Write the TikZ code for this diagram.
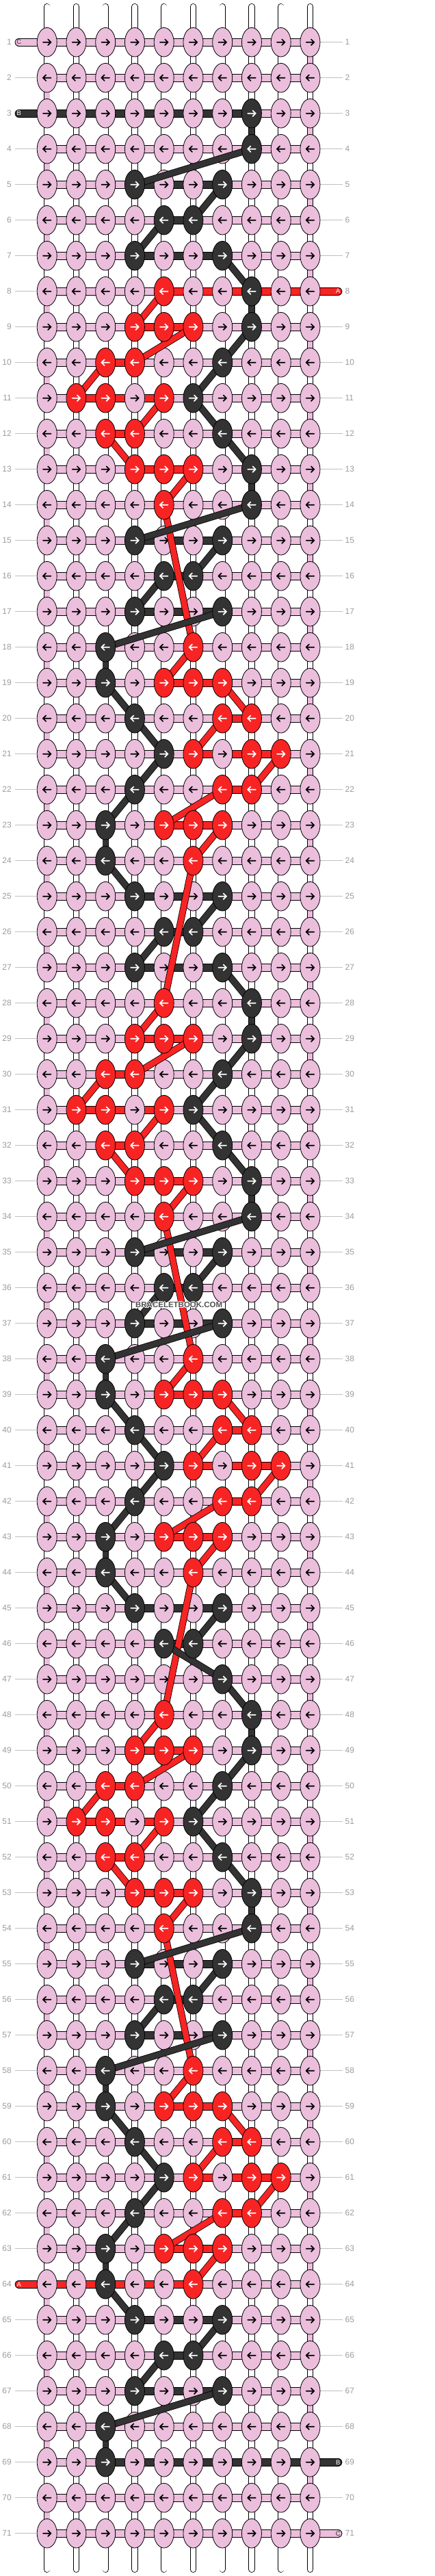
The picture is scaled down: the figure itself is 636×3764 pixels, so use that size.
\documentclass[tikz,border=0pt]{standalone}
\usepackage{fontspec}
\setmainfont{Liberation Sans}
\usetikzlibrary{shapes.geometric}
\definecolor{pk}{HTML}{EBBEDC}
\definecolor{dk}{HTML}{333333}
\definecolor{rd}{HTML}{F82424}
\definecolor{lbl}{HTML}{9C9C9C}
\definecolor{gln}{HTML}{C0C0C0}
\tikzset{
  knot/.style={ellipse, draw=black, line width=0.8pt, minimum width=29pt, minimum height=42.6pt, inner sep=0pt, outer sep=0pt},
  arr/.style={line width=1.7pt, line cap=round, line join=round},
  rowlab/.style={font=\fontsize{12}{12}\selectfont, text=lbl, inner sep=0pt},
  endlab/.style={font=\fontsize{9.5}{9.5}\selectfont, inner sep=0pt},
  stripO/.style={line width=12pt, draw=black},
  stripI/.style={line width=10.4pt},
  vertO/.style={line width=9.4pt, draw=black},
  vertI/.style={line width=7.8pt},
  diagO/.style={line width=10pt, draw=black},
  diagI/.style={line width=8.4pt},
  grayline/.style={draw=gln, line width=0.9pt},
}
\newcommand\setk[3]{\expandafter\xdef\csname kc-#1-#2\endcsname{#3}}
\newcommand\seg[4]{\draw[#1O] (#3) -- (#4); \draw[#1I,#2] (#3) -- (#4);}
\newcommand\karrow[3]{\ifodd#1\relax\def\kd{1}\else\def\kd{-1}\fi
  \draw[arr, #3, shift={(k-#1-#2)}, xscale=\kd] (-5.8,0) -- (5.8,0) (1.4,-4.3) -- (5.8,0) -- (1.4,4.3);}
\begin{document}
\begin{tikzpicture}[x=1pt,y=-1pt]
\useasboundingbox (0,0) rectangle (636,3764);
\fill[white] (0,0) rectangle (636,3764);
% knot positions
\foreach \r in {1,...,71}{\foreach \c in {1,...,10}{
  \coordinate (k-\r-\c) at ({68.7+42.75*(\c-1)},{61.7+52*(\r-1)});}}
\foreach \c in {1,...,10}{
  \coordinate (tt-\c) at ({68.7+42.75*(\c-1)},9.7);
  \coordinate (tb-\c) at ({68.7+42.75*(\c-1)},3754.3);}
% colour map of knots
\foreach \r/\c in {3/8,4/8,5/4,5/7,6/5,6/6,7/4,7/7,27/4,27/7,47/7,67/4,67/7,68/3,69/3}{\setk{\r}{\c}{dk}}
\foreach \o in {0,20,40}{\foreach \t/\c in {8/8,9/8,10/7,11/6,12/7,13/8,14/8,15/4,15/7,16/5,16/6,17/4,17/7,18/3,19/3,20/4,21/5,22/4,23/3,24/3,25/4,25/7,26/5,26/6}{
  \pgfmathtruncatemacro\r{\t+\o}\setk{\r}{\c}{dk}}}
\foreach \o in {0,20,40}{\foreach \t/\c in {8/5,9/4,9/5,9/6,10/3,10/4,11/2,11/3,11/5,12/3,12/4,13/4,13/5,13/6,14/5,18/6,19/5,19/6,19/7,20/7,20/8,21/6,21/8,21/9,22/7,22/8,23/5,23/6,23/7,24/6}{
  \pgfmathtruncatemacro\r{\t+\o}\setk{\r}{\c}{rd}}}
% row labels and guide lines
\foreach \r in {1,...,71}{
  \coordinate (gl-\r) at (21.7,{61.7+52*(\r-1)});
  \coordinate (gr-\r) at (500.5,{61.7+52*(\r-1)});
  \draw[grayline] (gl-\r) -- (k-\r-1);
  \draw[grayline] (k-\r-10) -- (gr-\r);
  \node[rowlab, anchor=east] (ll-\r) at (17,{61.7+52*(\r-1)}) {\r};
  \node[rowlab, anchor=west] (lr-\r) at (504.5,{61.7+52*(\r-1)}) {\r};
}
% base threads
\foreach \c in {1,...,10}{
  \draw[line width=9.4pt, black, line cap=round] (tt-\c) -- (tb-\c);
  \draw[line width=7.8pt, white, line cap=round] (tt-\c) -- (tb-\c);}
% vertical connectors
\foreach \r in {1,3,...,69}{\pgfmathtruncatemacro\rn{\r+1}\seg{vert}{pk}{k-\r-10}{k-\rn-10}}
\foreach \r in {2,4,...,70}{\pgfmathtruncatemacro\rn{\r+1}\seg{vert}{pk}{k-\r-1}{k-\rn-1}}
\foreach \r/\c in {3/8,68/3}{\pgfmathtruncatemacro\rn{\r+1}\seg{vert}{dk}{k-\r-\c}{k-\rn-\c}}
\foreach \o in {0,20,40}{\foreach \t/\c in {8/8,13/8,18/3,23/3}{
  \pgfmathtruncatemacro\r{\t+\o}\pgfmathtruncatemacro\rn{\r+1}\seg{vert}{dk}{k-\r-\c}{k-\rn-\c}}}
% horizontal strips
\foreach \r in {1,...,71}{\foreach \c in {1,...,9}{\pgfmathtruncatemacro\cn{\c+1}
  \seg{strip}{pk}{k-\r-\c}{k-\r-\cn}}}
\foreach \r/\c in {3/1,3/2,3/3,3/4,3/5,3/6,3/7,5/4,5/5,5/6,6/5,7/4,7/5,7/6,27/4,27/5,27/6,67/4,67/5,67/6,69/3,69/4,69/5,69/6,69/7,69/8,69/9}{
  \pgfmathtruncatemacro\cn{\c+1}\seg{strip}{dk}{k-\r-\c}{k-\r-\cn}}
\foreach \o in {0,20,40}{\foreach \t/\c in {15/4,15/5,15/6,16/5,17/4,17/5,17/6,25/4,25/5,25/6,26/5}{
  \pgfmathtruncatemacro\r{\t+\o}\pgfmathtruncatemacro\cn{\c+1}\seg{strip}{dk}{k-\r-\c}{k-\r-\cn}}}
\foreach \r/\c in {8/5,8/6,8/7,8/8,8/9,64/1,64/2,64/3,64/4,64/5}{
  \pgfmathtruncatemacro\cn{\c+1}\seg{strip}{rd}{k-\r-\c}{k-\r-\cn}}
\foreach \o in {0,20,40}{\foreach \t/\c in {9/4,9/5,10/3,11/2,11/3,11/4,12/3,13/4,13/5,19/5,19/6,20/7,21/6,21/7,21/8,22/7,23/5,23/6}{
  \pgfmathtruncatemacro\r{\t+\o}\pgfmathtruncatemacro\cn{\c+1}\seg{strip}{rd}{k-\r-\c}{k-\r-\cn}}}
% thread ends
\coordinate (eL1) at (27.7,61.7);
\coordinate (eL3) at (27.7,165.7);
\coordinate (eL64) at (27.7,3337.7);
\coordinate (eR8) at (494.3,425.7);
\coordinate (eR69) at (494.3,3597.7);
\coordinate (eR71) at (494.3,3701.7);
\foreach \e/\k/\col in {eL1/k-1-1/pk,eL3/k-3-1/dk,eL64/k-64-1/rd,eR8/k-8-10/rd,eR69/k-69-10/dk,eR71/k-71-10/pk}{
  \draw[stripO, line cap=round] (\e) -- (\k);
  \draw[stripI, \col, line cap=round] (\e) -- (\k);}
\node[endlab, text=dk] (tC1) at (eL1) {C};
\node[endlab, text=white] (tB1) at (eL3) {B};
\node[endlab, text=white] (tA1) at (eL64) {A};
\node[endlab, text=white] (tA2) at (eR8) {A};
\node[endlab, text=white] (tB2) at (eR69) {B};
\node[endlab, text=dk] (tC2) at (eR71) {C};
% pink knots
\foreach \r in {1,...,71}{\foreach \c in {1,...,10}{
  \ifcsname kc-\r-\c\endcsname\else
    \node[knot, fill=pk] (n-\r-\c) at (k-\r-\c) {};
    \karrow{\r}{\c}{black}
  \fi}}
% red diagonal paths
\foreach \o in {0,20,40}{\foreach \ra/\ca/\rb/\cb in {8/5/9/4,9/6/10/4,10/3/11/2,11/5/12/4,12/3/13/4,13/6/14/5,14/5/18/6,18/6/19/5,19/7/20/8,20/7/21/6,21/9/22/8,22/7/23/5,23/7/24/6}{
  \pgfmathtruncatemacro\rA{\ra+\o}\pgfmathtruncatemacro\rB{\rb+\o}\seg{diag}{rd}{k-\rA-\ca}{k-\rB-\cb}}}
\foreach \ra/\ca/\rb/\cb in {24/6/28/5,44/6/48/5}{\seg{diag}{rd}{k-\ra-\ca}{k-\rb-\cb}}
% dark diagonal paths
\foreach \o in {0,20,40}{\foreach \ra/\ca/\rb/\cb in {9/8/10/7,10/7/11/6,11/6/12/7,12/7/13/8,14/8/15/4,15/7/16/6,16/5/17/4,17/7/18/3,19/3/20/4,20/4/21/5,21/5/22/4,22/4/23/3,24/3/25/4,25/7/26/6}{
  \pgfmathtruncatemacro\rA{\ra+\o}\pgfmathtruncatemacro\rB{\rb+\o}\seg{diag}{dk}{k-\rA-\ca}{k-\rB-\cb}}}
\foreach \ra/\ca/\rb/\cb in {4/8/5/4,5/7/6/6,6/5/7/4,7/7/8/8,26/5/27/4,27/7/28/8,46/5/47/7,47/7/48/8,66/5/67/4,67/7/68/3}{\seg{diag}{dk}{k-\ra-\ca}{k-\rb-\cb}}
% coloured knots
\foreach \r in {1,...,71}{\foreach \c in {1,...,10}{
  \ifcsname kc-\r-\c\endcsname
    \edef\kcol{\csname kc-\r-\c\endcsname}
    \node[knot, fill=\kcol] (n-\r-\c) at (k-\r-\c) {};
    \karrow{\r}{\c}{white}
  \fi}}
% watermark
\coordinate (wmc) at (261.7,1906.7);
\foreach \dx/\dy [count=\i] in {0.9/0,-0.9/0,0/0.9,0/-0.9,0.65/0.65,-0.65/0.65,0.65/-0.65,-0.65/-0.65}{
  \node[font=\bfseries\fontsize{11.5}{11.5}\selectfont, text=white, inner sep=0pt] (wmh-\i) at ([xshift=\dx pt,yshift=\dy pt]wmc) {BRACELETBOOK.COM};}
\node[font=\bfseries\fontsize{11.5}{11.5}\selectfont, text=dk!85, inner sep=0pt] (wm) at (wmc) {BRACELETBOOK.COM};
\end{tikzpicture}
\end{document}
